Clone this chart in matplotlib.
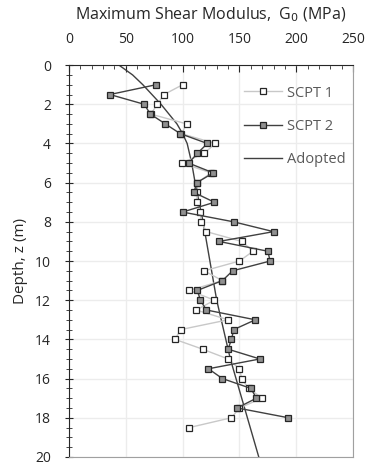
import matplotlib.pyplot as plt
from matplotlib.ticker import MultipleLocator

plt.rcParams['font.family'] = ['Open Sans', 'DejaVu Sans']

# SCPT 1 (open markers)
z1 = [1.0, 1.5, 2.0, 2.5, 3.0, 3.5, 4.0, 4.5, 5.0, 5.5, 6.0, 6.5, 7.0, 7.5, 8.0, 8.5,
      9.0, 9.5, 10.0, 10.5, 11.0, 11.5, 12.0, 12.5, 13.0, 13.5, 14.0, 14.5, 15.0,
      15.5, 16.0, 16.5, 17.0, 17.5, 18.0, 18.5]
g1 = [100, 83.6, 77.7, 72, 103.6, 99, 128.8, 119, 99.5, 125, 113, 113, 112.4, 115.3,
      116.5, 121, 152, 162, 150, 119, 135, 106, 128, 112, 140, 98.3, 93.3, 117.6,
      140, 150, 152, 158, 170, 150, 143, 106]

# SCPT 2 (filled markers)
z2 = [1.0, 1.5, 2.0, 2.5, 3.0, 3.5, 4.0, 4.5, 5.0, 5.5, 6.0, 6.5, 7.0, 7.5, 8.0, 8.5,
      9.0, 9.5, 10.0, 10.5, 11.0, 11.5, 12.0, 12.5, 13.0, 13.5, 14.0, 14.5, 15.0,
      15.5, 16.0, 16.5, 17.0, 17.5, 18.0]
g2 = [76.6, 36, 66.3, 71.6, 84.8, 98, 121.8, 113, 105.3, 127, 112.4, 110, 128, 100,
      145, 180, 132, 175, 177, 144, 135, 113, 115.6, 121, 164, 145, 143, 140, 168,
      122.7, 135, 160, 165, 148, 193]

# adopted profile
z_ad = [0, 0.5, 1, 1.5, 2, 2.5, 3, 3.5, 4, 5, 6, 7, 8, 9, 10, 11, 12, 13, 14, 15,
        16, 17, 18, 19, 20]
g_ad = [44, 56, 65, 73, 81, 88, 95, 100, 104, 108, 111, 114.5, 118, 121, 124, 127,
        130, 134, 138, 142, 147, 152, 157, 162, 167]

fig = plt.figure(figsize=(3.67, 4.62), dpi=100)
ax = fig.add_axes([0.188, 0.011, 0.774, 0.848])

ax.plot(g1, z1, color="#c8c8c8", lw=1, marker="s", ms=4.5, mfc="white",
        mec="#262626", mew=0.9, label="SCPT 1", zorder=3)
ax.plot(g2, z2, color="#404040", lw=1, marker="s", ms=4.5, mfc="#909090",
        mec="#262626", mew=0.9, label="SCPT 2", zorder=4)
ax.plot(g_ad, z_ad, color="#404040", lw=1, label="Adopted", zorder=2)

ax.set_xlim(0, 250)
ax.set_ylim(20, 0)
ax.xaxis.set_major_locator(MultipleLocator(50))
ax.xaxis.set_minor_locator(MultipleLocator(10))
ax.yaxis.set_major_locator(MultipleLocator(2))
ax.yaxis.set_minor_locator(MultipleLocator(0.5))
ax.xaxis.tick_top()
ax.xaxis.set_label_position("top")
ax.tick_params(axis="x", which="both", direction="in", labelsize=10,
               colors="#262626", pad=13)
ax.tick_params(axis="x", which="major", length=5)
ax.tick_params(axis="x", which="minor", length=3)
ax.tick_params(axis="y", which="both", direction="inout", labelsize=10,
               colors="#262626", pad=10)
ax.tick_params(axis="y", which="major", length=6)
ax.tick_params(axis="y", which="minor", length=4)
ax.grid(True, which="major", color="#ececec", lw=1)
ax.set_axisbelow(True)

for s in ["top", "left"]:
    ax.spines[s].set_color("#262626")
for s in ["bottom", "right"]:
    ax.spines[s].set_color("#a0a0a0")

ax.set_xlabel("Maximum Shear Modulus,  G$_0$ (MPa)", fontsize=11.5,
              color="#262626", labelpad=9)
ax.set_ylabel("Depth, z (m)", fontsize=11, color="#262626", labelpad=5)

leg = ax.legend(loc="upper left", bbox_to_anchor=(0.615, 0.948), frameon=False,
                fontsize=10.5, labelspacing=1.25, handlelength=2.6,
                handletextpad=0.4, borderpad=0, borderaxespad=0)
for t in leg.get_texts():
    t.set_color("#595959")

fig.savefig("out.png", dpi=100)
